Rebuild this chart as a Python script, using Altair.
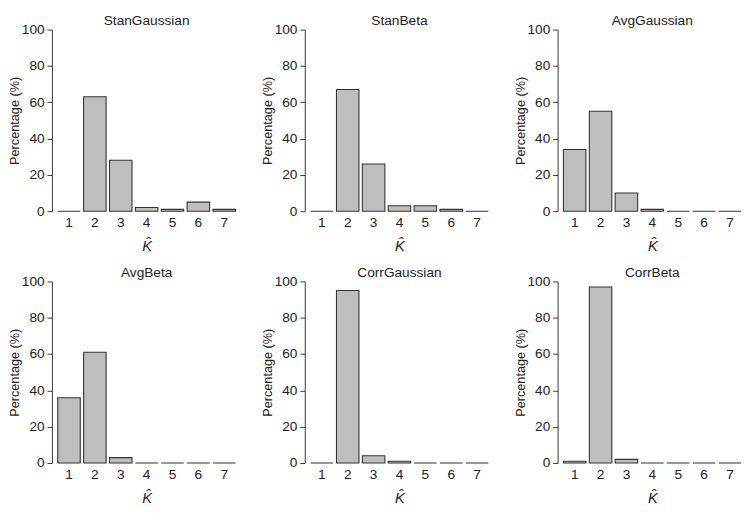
import altair as alt
import pandas as pd

k_values = [1, 2, 3, 4, 5, 6, 7]
panels = ["StanGaussian", "StanBeta", "AvgGaussian", "AvgBeta", "CorrGaussian", "CorrBeta"]
stan_gaussian = [0, 63, 28, 2, 1, 5, 1]
stan_beta = [0, 67, 26, 3, 3, 1, 0]
avg_gaussian = [34, 55, 10, 1, 0, 0, 0]
avg_beta = [36, 61, 3, 0, 0, 0, 0]
corr_gaussian = [0, 95, 4, 1, 0, 0, 0]
corr_beta = [1, 97, 2, 0, 0, 0, 0]
series = [stan_gaussian, stan_beta, avg_gaussian, avg_beta, corr_gaussian, corr_beta]

FONT = "Liberation Sans"
W, H = 194, 186


def panel(name, vals):
    df = pd.DataFrame({"k": k_values, "pct": vals})
    return alt.Chart(df).mark_bar(
        fill="#BEBEBE", stroke="#333333", strokeWidth=1.1
    ).encode(
        x=alt.X("k:O", title="K\u0302",
                scale=alt.Scale(paddingInner=0.13, paddingOuter=0.225),
                axis=alt.Axis(domain=False, ticks=False, tickSize=0, labelAngle=0,
                              grid=False,
                              labelFontSize=14, labelColor="#222", labelPadding=5,
                              labelFont=FONT, titleFont=FONT, titleFontSize=15,
                              titleFontStyle="italic", titleFontWeight="normal",
                              titleColor="#222", titlePadding=9)),
        y=alt.Y("pct:Q", title="Percentage (%)",
                scale=alt.Scale(domain=[0, 100], nice=False),
                axis=alt.Axis(values=[0, 20, 40, 60, 80, 100], grid=False,
                              domainColor="#333", tickColor="#333", tickSize=5,
                              labelFontSize=14, labelColor="#222", labelPadding=3,
                              labelFont=FONT, titleFont=FONT, titleFontSize=13,
                              titleFontWeight="normal", titleColor="#222",
                              titlePadding=0)),
    ).properties(
        width=W, height=H,
        title=alt.TitleParams(name, font=FONT, fontSize=14, fontWeight="normal",
                              color="#222", offset=-5),
    )


charts = [panel(n, v) for n, v in zip(panels, series)]
row1 = alt.hconcat(*charts[:3], spacing=20)
row2 = alt.hconcat(*charts[3:], spacing=20)
chart = alt.vconcat(row1, row2, spacing=13).properties(
    padding=0, background="white"
).configure_view(strokeWidth=0, stroke="transparent")

chart.save("out.html", embed_options={"renderer": "svg", "actions": False})
